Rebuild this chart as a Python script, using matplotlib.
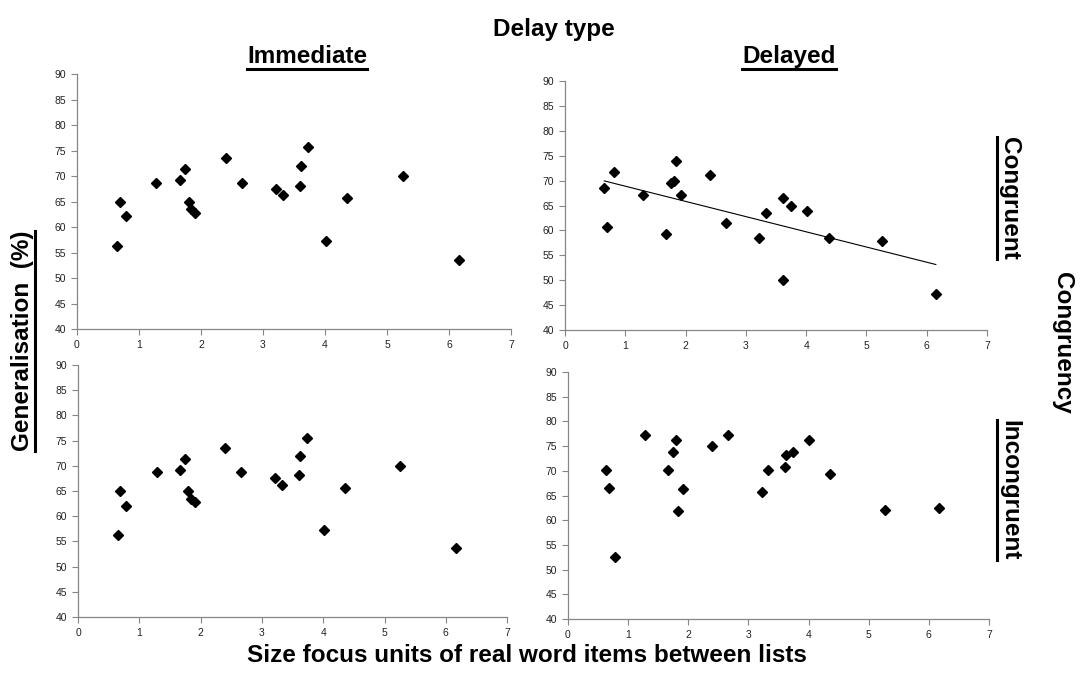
import matplotlib.pyplot as plt
import numpy as np
from matplotlib.lines import Line2D

# size focus units (x) and generalisation % (y) for each condition
imm_con_x = [0.65, 0.69, 0.79, 1.28, 1.66, 1.75, 1.80, 1.84, 1.91, 2.40,
             2.66, 3.21, 3.32, 3.60, 3.62, 3.73, 4.01, 4.36, 5.26, 6.16]
imm_con_y = [56.3, 64.9, 62.1, 68.7, 69.2, 71.3, 65.0, 63.5, 62.8, 73.5,
             68.7, 67.5, 66.2, 68.1, 72.0, 75.6, 57.2, 65.6, 70.0, 53.6]

del_con_x = [0.65, 0.69, 0.81, 1.29, 1.67, 1.76, 1.81, 1.84, 1.92, 2.41,
             2.67, 3.22, 3.33, 3.61, 3.62, 3.74, 4.01, 4.37, 5.26, 6.15]
del_con_y = [68.5, 60.7, 71.7, 67.1, 59.2, 69.5, 70.0, 73.9, 67.2, 71.1,
             61.4, 58.5, 63.5, 50.0, 66.6, 65.0, 63.9, 58.5, 57.8, 47.2]

imm_inc_x = [0.65, 0.69, 0.79, 1.28, 1.66, 1.75, 1.80, 1.84, 1.91, 2.40,
             2.66, 3.21, 3.32, 3.60, 3.62, 3.73, 4.01, 4.36, 5.26, 6.16]
imm_inc_y = [56.3, 64.9, 62.1, 68.7, 69.2, 71.3, 65.0, 63.5, 62.8, 73.5,
             68.7, 67.5, 66.2, 68.1, 72.0, 75.6, 57.2, 65.6, 70.0, 53.6]

del_inc_x = [0.64, 0.68, 0.79, 1.28, 1.66, 1.75, 1.80, 1.83, 1.91, 2.40,
             2.66, 3.22, 3.33, 3.61, 3.62, 3.74, 4.01, 4.36, 5.27, 6.17]
del_inc_y = [70.1, 66.5, 52.6, 77.2, 70.1, 73.8, 76.3, 61.9, 66.3, 75.1,
             77.2, 65.8, 70.1, 70.8, 73.2, 73.8, 76.3, 69.4, 62.1, 62.5]

FONT = "Liberation Sans"
AXCOL = "#868686"
BIG = 17.5

fig = plt.figure(figsize=(10.81, 6.76), dpi=100)

# [left, bottom, width, height] in figure fractions
positions = [
    [0.0712, 0.5133, 0.4015, 0.3772],
    [0.5227, 0.5118, 0.3904, 0.3683],
    [0.0722, 0.0873, 0.3969, 0.3728],
    [0.5254, 0.0843, 0.3895, 0.3654],
]
data = [(imm_con_x, imm_con_y), (del_con_x, del_con_y),
        (imm_inc_x, imm_inc_y), (del_inc_x, del_inc_y)]

axes = []
for pos, (xs, ys) in zip(positions, data):
    ax = fig.add_axes(pos)
    ax.plot(xs, ys, "D", color="black", markersize=5.6, clip_on=False)
    ax.set_xlim(0, 7)
    ax.set_ylim(40, 90)
    ax.set_xticks(range(0, 8))
    ax.set_yticks(range(40, 91, 5))
    for s in ["top", "right"]:
        ax.spines[s].set_visible(False)
    for s in ["left", "bottom"]:
        ax.spines[s].set_color(AXCOL)
        ax.spines[s].set_linewidth(0.9)
    ax.tick_params(direction="out", length=4, width=0.8, color=AXCOL,
                   labelsize=7.5, labelcolor="#222222", pad=4)
    for lab in ax.get_xticklabels() + ax.get_yticklabels():
        lab.set_family(FONT)
    axes.append(ax)

# linear trend for delayed / congruent
coef = np.polyfit(del_con_x, del_con_y, 1)
tx = np.array([min(del_con_x), max(del_con_x)])
axes[1].plot(tx, np.polyval(coef, tx), color="black", linewidth=0.8)

bold = dict(fontsize=BIG, fontweight="bold", family=FONT,
            ha="center", va="center")
texts = []
fig.text(0.5125, 0.957, "Delay type", **bold)
texts.append((fig.text(0.284, 0.917, "Immediate", **bold), "h"))
texts.append((fig.text(0.730, 0.917, "Delayed", **bold), "h"))
texts.append((fig.text(0.0204, 0.4956, "Generalisation  (%)", rotation=90,
                       **bold), "up"))
texts.append((fig.text(0.934, 0.707, "Congruent", rotation=-90, **bold),
              "down"))
texts.append((fig.text(0.934, 0.275, "Incongruent", rotation=-90, **bold),
              "down"))
fig.text(0.983, 0.493, "Congruency", rotation=-90, **bold)
fig.text(0.4875, 0.031, "Size focus units of real word items between lists",
         **bold)

# underline the condition labels
fig.canvas.draw()
renderer = fig.canvas.get_renderer()
W, H = fig.bbox.width, fig.bbox.height
for txt, kind in texts:
    bb = txt.get_window_extent(renderer)
    if kind == "h":
        y = (bb.y0 - 1) / H
        xs, ys = [bb.x0 / W, bb.x1 / W], [y, y]
    else:
        x = (bb.x1 + 1) / W if kind == "up" else (bb.x0 - 1) / W
        xs, ys = [x, x], [bb.y0 / H, bb.y1 / H]
    fig.add_artist(Line2D(xs, ys, transform=fig.transFigure,
                          color="black", lw=2.2))

fig.savefig("out.png", dpi=100)
